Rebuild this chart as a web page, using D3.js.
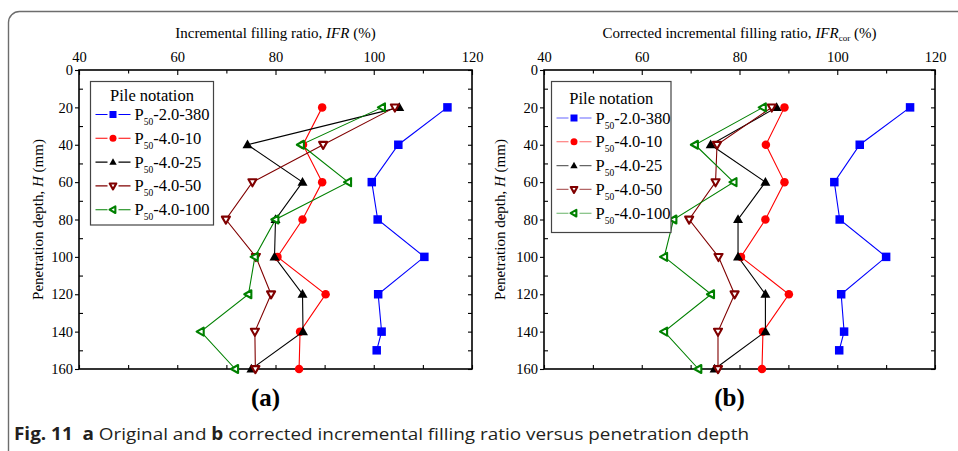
<!DOCTYPE html>
<html>
<head>
<meta charset="utf-8">
<script src="https://cdn.jsdelivr.net/npm/d3@7"></script>
<style>
  html, body { margin: 0; padding: 0; background: #fff; }
  svg { display: block; }
</style>
</head>
<body>
<svg id="chart" width="958" height="451"></svg>
<script>
// Penetration depths (mm) for each measurement
const depths = [20, 40, 60, 80, 100, 120, 140, 160];
const depthsP2 = [20, 40, 60, 80, 100, 120, 140, 150];

// (a) Incremental filling ratio, IFR (%)
const ifrP2_380 = [115.0, 105.0, 99.6, 100.8, 110.3, 100.9, 101.6, 100.6];
const ifrP4_10  = [89.5, 85.6, 89.5, 85.5, 80.4, 90.2, 85.0, 84.8];
const ifrP4_25  = [105.2, 74.3, 85.5, 80.0, 79.8, 85.5, 85.6, 75.1];
const ifrP4_50  = [104.3, 89.7, 75.3, 69.9, 76.0, 79.1, 75.8, 75.9];
const ifrP4_100 = [101.7, 85.2, 94.8, 80.0, 75.8, 74.5, 64.8, 71.8];

// (b) Corrected incremental filling ratio, IFR_cor (%)
const corP2_380 = [114.9, 104.6, 99.4, 100.5, 110.0, 100.8, 101.4, 100.4];
const corP4_10  = [89.2, 85.4, 89.2, 85.3, 80.3, 90.1, 84.8, 84.6];
const corP4_25  = [87.6, 74.1, 85.3, 79.7, 79.7, 85.3, 85.3, 74.9];
const corP4_50  = [86.6, 75.4, 75.1, 69.7, 75.7, 79.0, 75.6, 75.6];
const corP4_100 = [84.8, 70.9, 78.8, 66.5, 64.6, 74.2, 64.6, 71.6];

const xTicks = [40, 60, 80, 100, 120];
const yTicks = [0, 20, 40, 60, 80, 100, 120, 140, 160];

const pileNames = [
  ["P", "50", "-2.0-380"],
  ["P", "50", "-4.0-10"],
  ["P", "50", "-4.0-25"],
  ["P", "50", "-4.0-50"],
  ["P", "50", "-4.0-100"]
];

const seriesStyle = [
  { color: "#0000ff", marker: "square" },
  { color: "#ff0000", marker: "circle" },
  { color: "#000000", marker: "up" },
  { color: "#800000", marker: "down" },
  { color: "#008000", marker: "left" }
];

const svg = d3.select("#chart");
const serif = "'Liberation Serif', 'DejaVu Serif', serif";

// Outer rounded frame of the figure
svg.append("rect")
  .attr("x", 8.5).attr("y", 11.5)
  .attr("width", 1000).attr("height", 450)
  .attr("rx", 11).attr("ry", 11)
  .attr("fill", "none").attr("stroke", "#6d6d6d").attr("stroke-width", 1.4);

function markerPath(type, s) {
  const h = s / 2;
  switch (type) {
    case "square": return `M${-h},${-h}H${h}V${h}H${-h}Z`;
    case "up": return `M0,${-h * 1.1}L${h * 1.05},${h * 0.75}L${-h * 1.05},${h * 0.75}Z`;
    case "down": return `M0,${h * 1.1}L${h * 1.05},${-h * 0.75}L${-h * 1.05},${-h * 0.75}Z`;
    case "left": return `M${-h * 1.1},0L${h * 0.75},${-h * 1.05}L${h * 0.75},${h * 1.05}Z`;
  }
  return "";
}

function drawMarker(g, type, color, x, y, s) {
  if (type === "circle") {
    g.append("circle").attr("cx", x).attr("cy", y).attr("r", s / 2)
      .attr("fill", color);
  } else if (type === "down" || type === "left") {
    // open symbol with a heavy outline
    g.append("path").attr("d", markerPath(type, s * 0.9))
      .attr("transform", `translate(${x},${y})`)
      .attr("fill", "#fff").attr("stroke", color).attr("stroke-width", 2.1)
      .attr("stroke-linejoin", "round");
  } else {
    g.append("path").attr("d", markerPath(type, s))
      .attr("transform", `translate(${x},${y})`)
      .attr("fill", color);
  }
}

function drawPanel(opts) {
  const { x0, x1, y0, y1, series, title, titleSub, titleAfter, yTitleX, legend, label, legendLineOpacity } = opts;
  const x = d3.scaleLinear().domain([40, 120]).range([x0, x1]);
  const y = d3.scaleLinear().domain([0, 160]).range([y0, y1]);
  const g = svg.append("g");

  const minorX = d3.range(40, 121, 10);
  const minorY = d3.range(0, 161, 10);

  // top axis (labelled), ticks pointing inward
  const top = g.append("g").attr("transform", `translate(0,${y0})`)
    .call(d3.axisTop(x).tickValues(xTicks).tickSize(-5).tickPadding(8));
  top.append("g").call(d3.axisTop(x).tickValues(minorX.filter(v => v % 20)).tickSize(-3.5).tickFormat(""));
  // bottom mirror axis
  const bot = g.append("g").attr("transform", `translate(0,${y1})`)
    .call(d3.axisBottom(x).tickValues(minorX).tickSize(-4).tickFormat(""));
  // left axis (labelled)
  const left = g.append("g").attr("transform", `translate(${x0},0)`)
    .call(d3.axisLeft(y).tickValues(yTicks).tickSize(4).tickPadding(2));
  left.append("g").call(d3.axisLeft(y).tickValues(minorY.filter(v => v % 20)).tickSize(-4).tickFormat(""));
  // right mirror axis
  const right = g.append("g").attr("transform", `translate(${x1},0)`)
    .call(d3.axisRight(y).tickValues(minorY).tickSize(-4).tickFormat(""));

  [top, bot, left, right].forEach(a => {
    a.selectAll(".domain").remove();
    a.selectAll("line").attr("stroke", "#000").attr("stroke-width", 1.1);
    a.selectAll("text").attr("font-family", serif).attr("font-size", 14.5).attr("fill", "#000");
  });

  // plot frame
  g.append("rect").attr("x", x0).attr("y", y0)
    .attr("width", x1 - x0).attr("height", y1 - y0)
    .attr("fill", "none").attr("stroke", "#000").attr("stroke-width", 1.6);

  // axis titles
  const t = g.append("text").attr("x", (x0 + x1) / 2).attr("y", 38)
    .attr("text-anchor", "middle").attr("font-family", serif).attr("font-size", 15);
  t.append("tspan").text(title[0]);
  t.append("tspan").attr("font-style", "italic").text(title[1]);
  if (titleSub) {
    t.append("tspan").attr("font-size", 9).attr("dy", 3).text(titleSub);
    t.append("tspan").attr("dy", -3).text(titleAfter);
  } else {
    t.append("tspan").text(titleAfter);
  }

  const yt = g.append("text")
    .attr("transform", `translate(${yTitleX},${(y0 + y1) / 2}) rotate(-90)`)
    .attr("text-anchor", "middle").attr("font-family", serif).attr("font-size", 15);
  yt.append("tspan").text("Penetration depth, ");
  yt.append("tspan").attr("font-style", "italic").text("H");
  yt.append("tspan").text(" (mm)");

  // data lines and markers
  const line = d3.line().x(d => x(d[0])).y(d => y(d[1]));
  series.forEach((vals, i) => {
    const st = seriesStyle[i];
    const ds = i === 0 ? depthsP2 : depths;
    const pts = vals.map((v, k) => [v, ds[k]]);
    g.append("path").attr("d", line(pts)).attr("fill", "none")
      .attr("stroke", st.color).attr("stroke-width", 1.1);
  });
  series.forEach((vals, i) => {
    const st = seriesStyle[i];
    const ds = i === 0 ? depthsP2 : depths;
    const mg = g.append("g");
    vals.forEach((v, k) => drawMarker(mg, st.marker, st.color, x(v), y(ds[k]), st.marker === "up" ? 9.5 : 8.5));
  });

  // legend
  const lg = g.append("g");
  lg.append("rect").attr("x", legend.x).attr("y", legend.y)
    .attr("width", legend.w).attr("height", legend.h)
    .attr("fill", "#fff").attr("stroke", "#444").attr("stroke-width", 1.2);
  lg.append("text").attr("x", legend.x + legend.w / 2).attr("y", legend.titleY)
    .attr("text-anchor", "middle").attr("font-family", serif).attr("font-size", 16.5)
    .text("Pile notation");
  pileNames.forEach((nm, i) => {
    const st = seriesStyle[i];
    const cy = legend.firstY + i * 23.8;
    lg.append("line").attr("x1", legend.x + 5).attr("x2", legend.x + 40)
      .attr("y1", cy).attr("y2", cy)
      .attr("stroke", st.color).attr("stroke-width", 1.1)
      .attr("stroke-opacity", legendLineOpacity);
    lg.append("rect").attr("x", legend.x + 17).attr("y", cy - 4)
      .attr("width", 11).attr("height", 8).attr("fill", "#fff");
    drawMarker(lg, st.marker, st.color, legend.x + 22.5, cy, 7);
    const tx = lg.append("text").attr("x", legend.x + legend.textDx).attr("y", cy + 5.5)
      .attr("font-family", serif).attr("font-size", 16.5);
    tx.append("tspan").text(nm[0]);
    tx.append("tspan").attr("font-size", 9.5).attr("dy", 5).text(nm[1]);
    tx.append("tspan").attr("dy", -5).text(nm[2]);
  });

  // panel label
  svg.append("text").attr("x", (x0 + x1) / 2 - 10).attr("y", 406)
    .attr("text-anchor", "middle").attr("font-family", serif)
    .attr("font-weight", "bold").attr("font-size", 25).text(label);
}

drawPanel({
  x0: 79, x1: 472, y0: 70, y1: 369,
  series: [ifrP2_380, ifrP4_10, ifrP4_25, ifrP4_50, ifrP4_100],
  title: ["Incremental filling ratio, ", "IFR"], titleSub: null, titleAfter: " (%)",
  yTitleX: 43,
  legend: { x: 90.5, y: 81.5, w: 123, h: 143.5, titleY: 101, firstY: 114.5, textDx: 44 },
  label: "(a)", legendLineOpacity: 1
});

drawPanel({
  x0: 544, x1: 935, y0: 70, y1: 369,
  series: [corP2_380, corP4_10, corP4_25, corP4_50, corP4_100],
  title: ["Corrected incremental filling ratio, ", "IFR"], titleSub: "cor", titleAfter: " (%)",
  yTitleX: 505,
  legend: { x: 551.5, y: 81.5, w: 119.5, h: 151, titleY: 104, firstY: 118, textDx: 44 },
  label: "(b)", legendLineOpacity: 0.6
});

// figure caption
const cap = svg.append("text").attr("x", 14).attr("y", 440)
  .attr("font-family", "'Open Sans', 'Noto Sans', sans-serif").attr("font-size", 17)
  .attr("fill", "#231f20")
  .attr("textLength", 735).attr("lengthAdjust", "spacingAndGlyphs");
cap.append("tspan").attr("font-weight", "bold").text("Fig. 11");
cap.append("tspan").text("\u00a0\u00a0");
cap.append("tspan").attr("font-weight", "bold").text("a");
cap.append("tspan").text(" Original and ");
cap.append("tspan").attr("font-weight", "bold").text("b");
cap.append("tspan").text(" corrected incremental filling ratio versus penetration depth");
</script>
</body>
</html>
